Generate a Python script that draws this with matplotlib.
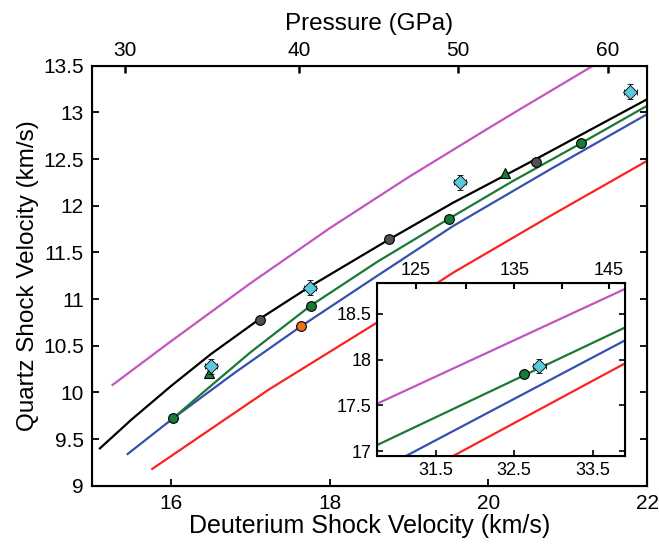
import numpy as np
from matplotlib import pyplot as plt

plt.rcParams['font.family'] = ['Liberation Sans', 'DejaVu Sans']

# model curves, main panel (deuterium Us, quartz Us)
mag_x = [15.26, 16.0, 17.0, 18.0, 19.0, 20.0, 20.41, 21.32]
mag_y = [10.08, 10.55, 11.17, 11.76, 12.31, 12.83, 13.04, 13.5]
blk_x = [15.10, 15.5, 16.0, 16.5, 17.12, 17.76, 18.75, 19.55, 20.6, 22.0]
blk_y = [9.40, 9.71, 10.07, 10.41, 10.79, 11.14, 11.64, 12.03, 12.50, 13.14]
grn_x = [16.02, 16.43, 17.0, 17.76, 18.6, 19.5, 20.3, 21.17, 22.0]
grn_y = [9.72, 10.02, 10.43, 10.93, 11.40, 11.86, 12.26, 12.67, 13.07]
blu_x = [15.45, 16.02, 16.8, 17.64, 18.6, 19.55, 20.8, 22.0]
blu_y = [9.34, 9.72, 10.21, 10.71, 11.25, 11.78, 12.40, 12.98]
red_x = [15.76, 17.23, 18.58, 19.55, 20.8, 22.0]
red_y = [9.18, 10.03, 10.74, 11.28, 11.90, 12.48]

# data points
gray_x = [17.12, 18.75, 20.6]
gray_y = [10.78, 11.64, 12.47]
gc_x = [16.02, 17.76, 19.5, 21.17]
gc_y = [9.72, 10.93, 11.86, 12.67]
tri_x = [16.47, 20.21]
tri_y = [10.21, 12.35]
org_x = [17.64]
org_y = [10.71]
dia_x = [16.5, 17.75, 19.64, 21.79]
dia_y = [10.28, 11.12, 12.25, 13.22]
dia_xerr = 0.08
dia_yerr = 0.08

# top axis: pressure ticks
p_labels = [30, 40, 50, 60]
p_pos = [15.42, 17.61, 19.62, 21.51]

# inset
in_mag_x = [30.76, 33.91]
in_mag_y = [17.52, 18.77]
in_grn_x = [30.76, 33.91]
in_grn_y = [17.07, 18.35]
in_blu_x = [31.08, 33.91]
in_blu_y = [16.93, 18.21]
in_red_x = [31.68, 33.91]
in_red_y = [16.93, 17.96]
in_gc_x = [32.63]
in_gc_y = [17.84]
in_dia_x = [32.82]
in_dia_y = [17.93]
in_top_labels = ['125', '', '135', '', '145']
in_top_pos = [31.25, 31.886, 32.50, 33.11, 33.70]

c_mag = '#c355c0'
c_grn = '#187a35'
c_blu = '#3550b0'
c_red = '#ff2020'
c_cyan = '#5cc8dc'

fig = plt.figure(figsize=(6.59, 5.48), dpi=100)
ax = fig.add_axes([0.1396, 0.1137, 0.8422, 0.7664])

lw = 1.6
ax.plot(mag_x, mag_y, color=c_mag, lw=lw)
ax.plot(red_x, red_y, color=c_red, lw=lw)
ax.plot(blu_x, blu_y, color=c_blu, lw=lw)
ax.plot(grn_x, grn_y, color=c_grn, lw=lw)
ax.plot(blk_x, blk_y, color='k', lw=lw)

ax.plot(gray_x, gray_y, 'o', ms=7, mfc='#505050', mec='k', mew=0.8)
ax.plot(gc_x, gc_y, 'o', ms=7, mfc=c_grn, mec='k', mew=0.8)
ax.plot(org_x, org_y, 'o', ms=7, mfc='#f07020', mec='k', mew=0.8)
ax.plot(tri_x, tri_y, '^', ms=7.5, mfc=c_grn, mec='k', mew=0.8)
ax.errorbar(dia_x, dia_y, xerr=dia_xerr, yerr=dia_yerr, fmt='D', ms=7,
            mfc=c_cyan, mec='k', mew=0.6, ecolor='k', elinewidth=0.8,
            capsize=2.5, capthick=0.8)

ax.set_xlim(15, 22)
ax.set_ylim(9, 13.5)
ax.set_xticks([16, 18, 20, 22])
ax.set_yticks(np.arange(9, 13.51, 0.5))
ax.set_yticklabels(['%g' % v for v in np.arange(9, 13.51, 0.5)])
ax.tick_params(direction='in', labelsize=15, length=5, width=1.3,
               right=True, pad=6)
for s in ax.spines.values():
    s.set_linewidth(1.5)
ax.set_xlabel('Deuterium Shock Velocity (km/s)', fontsize=18, labelpad=1)
ax.set_ylabel('Quartz Shock Velocity (km/s)', fontsize=17.5, labelpad=3)

top = ax.twiny()
top.set_xlim(ax.get_xlim())
top.set_xticks(p_pos)
top.set_xticklabels([str(p) for p in p_labels])
top.tick_params(direction='in', labelsize=15, length=5, width=1.8, pad=4)
top.set_xlabel('Pressure (GPa)', fontsize=17.5, labelpad=8)

# inset
ins = fig.add_axes([0.5725, 0.1679, 0.3763, 0.3151])
ins.set_facecolor('white')
ins.plot(in_mag_x, in_mag_y, color=c_mag, lw=lw)
ins.plot(in_red_x, in_red_y, color=c_red, lw=lw)
ins.plot(in_blu_x, in_blu_y, color=c_blu, lw=lw)
ins.plot(in_grn_x, in_grn_y, color=c_grn, lw=lw)
ins.plot(in_gc_x, in_gc_y, 'o', ms=7, mfc=c_grn, mec='k', mew=0.8)
ins.errorbar(in_dia_x, in_dia_y, xerr=dia_xerr, yerr=dia_yerr, fmt='D', ms=7,
             mfc=c_cyan, mec='k', mew=0.6, ecolor='k', elinewidth=0.8,
             capsize=2.5, capthick=0.8)
ins.set_xlim(30.76, 33.91)
ins.set_ylim(16.95, 18.83)
ins.set_xticks([31.5, 32.5, 33.5])
ins.set_xticklabels(['31.5', '32.5', '33.5'])
ins.set_yticks([17, 17.5, 18, 18.5])
ins.set_yticklabels(['17', '17.5', '18', '18.5'])
ins.tick_params(direction='in', labelsize=13, length=4, width=1.2,
                right=True, pad=4)
for s in ins.spines.values():
    s.set_linewidth(1.5)
ins_top = ins.twiny()
ins_top.set_xlim(ins.get_xlim())
ins_top.set_xticks(in_top_pos)
ins_top.set_xticklabels(in_top_labels)
ins_top.tick_params(direction='in', labelsize=13, length=4, width=1.5, pad=3)

fig.savefig('out.png', dpi=100)
